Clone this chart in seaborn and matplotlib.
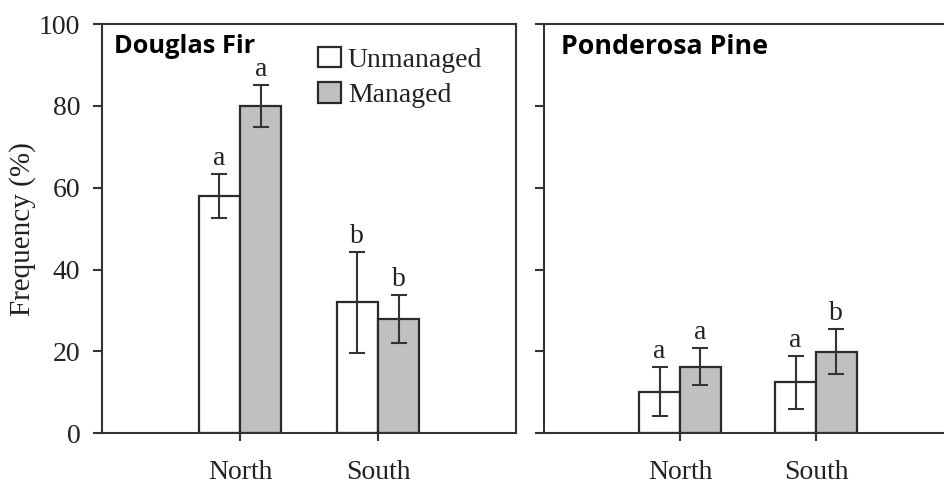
import matplotlib
matplotlib.use("Agg")
import matplotlib.pyplot as plt
import seaborn as sns
import pandas as pd
from matplotlib.patches import Patch

# ---- data ----
regions = ["North", "South"]
management = ["Unmanaged", "Managed"]

douglas_unmanaged = [57.9, 32.0]
douglas_managed = [80.0, 27.9]
douglas_unmanaged_err = [5.4, 12.4]
douglas_managed_err = [5.2, 5.9]
douglas_unmanaged_letters = ["a", "b"]
douglas_managed_letters = ["a", "b"]

ponderosa_unmanaged = [10.2, 12.5]
ponderosa_managed = [16.3, 19.9]
ponderosa_unmanaged_err = [6.0, 6.5]
ponderosa_managed_err = [4.5, 5.5]
ponderosa_unmanaged_letters = ["a", "a"]
ponderosa_managed_letters = ["a", "b"]

panel_titles = ["Douglas Fir", "Ponderosa Pine"]
y_label = "Frequency (%)"
y_ticks = [0, 20, 40, 60, 80, 100]

sns.set_style("ticks")
plt.rcParams["font.family"] = ["Liberation Serif", "DejaVu Serif"]

FS = 20
W, H = 945, 483
fig = plt.figure(figsize=(W / 100, H / 100), dpi=100)

ax_bottom, ax_top = 433.3, 24
left_ax = fig.add_axes([102 / W, (H - ax_bottom) / H, (516 - 102) / W, (ax_bottom - ax_top) / H])
right_ax = fig.add_axes([544 / W, (H - ax_bottom) / H, 408 / W, (ax_bottom - ax_top) / H])

edge = "#2a2a2a"
palette = {"Unmanaged": "white", "Managed": "#c0c0c0"}

panels = [
    (left_ax, douglas_unmanaged, douglas_managed, douglas_unmanaged_err, douglas_managed_err,
     douglas_unmanaged_letters, douglas_managed_letters),
    (right_ax, ponderosa_unmanaged, ponderosa_managed, ponderosa_unmanaged_err, ponderosa_managed_err,
     ponderosa_unmanaged_letters, ponderosa_managed_letters),
]

for idx, (ax, un, ma, un_e, ma_e, un_l, ma_l) in enumerate(panels):
    df = pd.DataFrame({
        "region": regions + regions,
        "management": [management[0]] * 2 + [management[1]] * 2,
        "value": un + ma,
    })
    sns.barplot(data=df, x="region", y="value", hue="management", order=regions,
                hue_order=management, palette=palette, edgecolor=edge, linewidth=1.6,
                width=0.6, errorbar=None, legend=False, ax=ax, saturation=1)
    errs = [un_e, ma_e]
    letters = [un_l, ma_l]
    bar_conts = list(ax.containers)
    for ci, cont in enumerate(bar_conts):
        xs = [p.get_x() + p.get_width() / 2 for p in cont.patches]
        hs = [p.get_height() for p in cont.patches]
        ax.errorbar(xs, hs, yerr=errs[ci], fmt="none", ecolor="#333333",
                    elinewidth=1.5, capsize=5.5, capthick=1.5, zorder=5)
        for x, h, e, lab in zip(xs, hs, errs[ci], letters[ci]):
            ax.text(x, h + e + 2.2, lab, ha="center", va="baseline",
                    fontsize=FS, color="#222222")
    ax.set_xlim(-1, 2)
    ax.set_ylim(0, 100)
    ax.set_yticks(y_ticks)
    ax.set_xlabel("")
    ax.set_ylabel("")
    for s in ax.spines.values():
        s.set_color("#333333")
        s.set_linewidth(1.5)
    ax.tick_params(axis="y", direction="out", length=6.5, width=1.5, color="#333333",
                   labelsize=FS, labelcolor="#222222", pad=9)
    ax.tick_params(axis="x", direction="out", length=6, width=1.5, color="#333333",
                   labelsize=FS, labelcolor="#222222", pad=13)
    ax.text(0.028 if idx == 0 else 0.041, 0.975, panel_titles[idx], transform=ax.transAxes,
            ha="left", va="top", fontsize=18.3 if idx == 0 else 19.3, fontweight="bold",
            family=["Open Sans", "DejaVu Sans"], color="black")

left_ax.set_ylabel(y_label, fontsize=21, color="#222222", labelpad=2)
right_ax.set_yticklabels([])
right_ax.spines["right"].set_visible(False)

handles = [Patch(facecolor=palette[m], edgecolor=edge, linewidth=1.6, label=m) for m in management]
left_ax.legend(handles=handles, loc="upper left", bbox_to_anchor=(0.522, 0.945),
               frameon=False, fontsize=FS, handlelength=0.82, handleheight=0.78,
               handletextpad=0.25, labelspacing=0.35, borderpad=0, borderaxespad=0,
               labelcolor="#222222")

fig.savefig("out.png", dpi=100)
